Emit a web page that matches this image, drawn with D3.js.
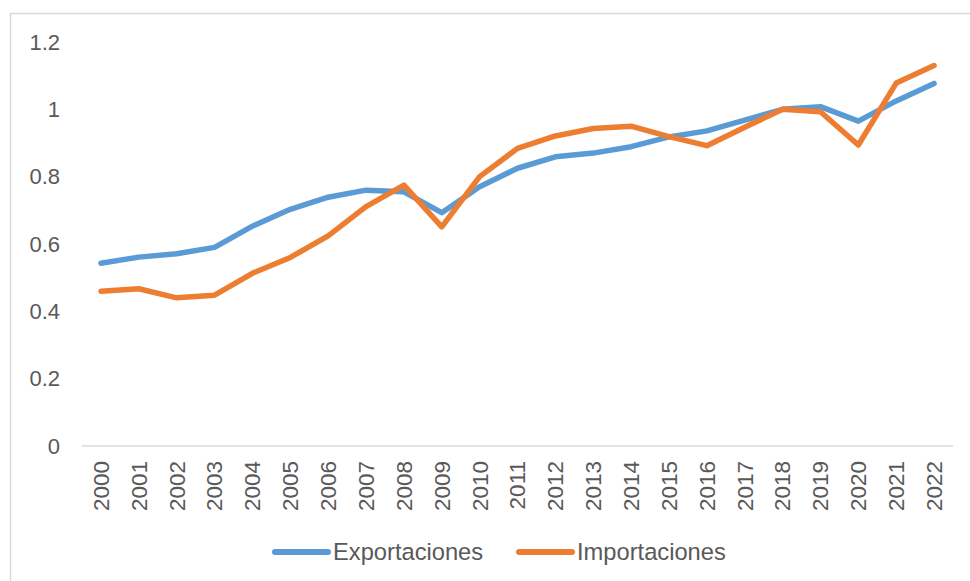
<!DOCTYPE html>
<html>
<head>
<meta charset="utf-8">
<script src="https://cdn.jsdelivr.net/npm/d3@7"></script>
<style>
  body { margin: 0; background: #fff; }
  svg { display: block; font-family: "Liberation Sans", Arial, sans-serif; }
</style>
</head>
<body>
<div id="chart"></div>
<script>
var years = ["2000","2001","2002","2003","2004","2005","2006","2007","2008","2009","2010",
  "2011","2012","2013","2014","2015","2016","2017","2018","2019","2020","2021","2022"];
var exportaciones = [0.543, 0.561, 0.571, 0.590, 0.653, 0.703, 0.739, 0.760, 0.755, 0.693, 0.770,
  0.825, 0.859, 0.870, 0.889, 0.918, 0.936, 0.968, 1.000, 1.008, 0.965, 1.025, 1.077];
var importaciones = [0.460, 0.467, 0.440, 0.448, 0.513, 0.560, 0.624, 0.711, 0.775, 0.651, 0.800,
  0.884, 0.921, 0.943, 0.950, 0.919, 0.892, 0.947, 1.000, 0.993, 0.894, 1.078, 1.130];
var yTicks = [0, 0.2, 0.4, 0.6, 0.8, 1, 1.2];

var series = [
  { name: "Exportaciones", values: exportaciones, color: "#5B9BD5" },
  { name: "Importaciones", values: importaciones, color: "#ED7D31" }
];

var width = 970, height = 581;

var svg = d3.select("#chart").append("svg")
  .attr("width", width)
  .attr("height", height);

// chart area border (only left/top visible in the crop)
svg.append("rect")
  .attr("x", 10.5).attr("y", 13.5)
  .attr("width", 1000).attr("height", 1000)
  .attr("fill", "none")
  .attr("stroke", "#D9D9D9")
  .attr("stroke-width", 1.5);

var x = d3.scaleBand().domain(years).range([82, 953]);
var y = d3.scaleLinear().domain([0, 1.2]).range([446, 42]);

// baseline
svg.append("line")
  .attr("x1", 82).attr("x2", 953)
  .attr("y1", y(0)).attr("y2", y(0))
  .attr("stroke", "#D9D9D9")
  .attr("stroke-width", 1.5);

// y tick labels
svg.append("g").selectAll("text")
  .data(yTicks)
  .enter().append("text")
  .attr("x", 60)
  .attr("y", function (d) { return y(d); })
  .attr("dy", "0.35em")
  .attr("text-anchor", "end")
  .attr("fill", "#595959")
  .style("font-size", "22px")
  .text(function (d) { return d; });

// x tick labels, rotated
svg.append("g").selectAll("text")
  .data(years)
  .enter().append("text")
  .attr("transform", function (d) {
    return "translate(" + (x(d) + x.bandwidth() / 2) + ",461) rotate(-90)";
  })
  .attr("dy", "0.35em")
  .attr("text-anchor", "end")
  .attr("fill", "#595959")
  .style("font-size", "22.5px")
  .text(function (d) { return d; });

var line = d3.line()
  .x(function (d, i) { return x(years[i]) + x.bandwidth() / 2; })
  .y(function (d) { return y(d); });

svg.append("g").selectAll("path")
  .data(series)
  .enter().append("path")
  .attr("d", function (s) { return line(s.values); })
  .attr("fill", "none")
  .attr("stroke", function (s) { return s.color; })
  .attr("stroke-width", 5.5)
  .attr("stroke-linejoin", "round")
  .attr("stroke-linecap", "round");

// legend
var legendX = [275, 519];
var legend = svg.append("g").selectAll("g")
  .data(series)
  .enter().append("g")
  .attr("transform", function (s, i) { return "translate(" + legendX[i] + ",552)"; });

legend.append("line")
  .attr("x1", 0).attr("x2", 53)
  .attr("stroke", function (s) { return s.color; })
  .attr("stroke-width", 6)
  .attr("stroke-linecap", "round");

legend.append("text")
  .attr("x", 58)
  .attr("dy", "0.35em")
  .attr("fill", "#595959")
  .style("font-size", "23.7px")
  .text(function (s) { return s.name; });
</script>
</body>
</html>
